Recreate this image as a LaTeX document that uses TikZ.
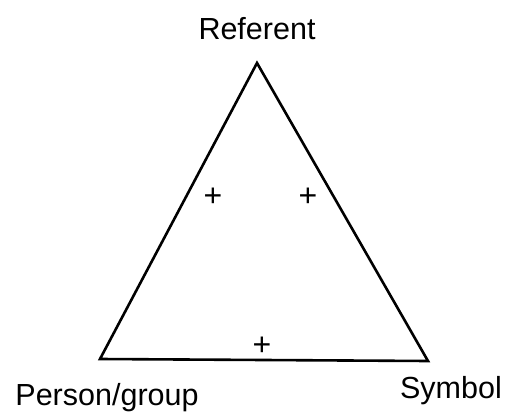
\documentclass[tikz,border=0pt]{standalone}
\usepackage{fontspec}
\setmainfont{Liberation Sans}
\usetikzlibrary{positioning}
\tikzset{
  tside/.style ={line width=2.6pt, black, line join=miter, line cap=round},
  tlabel/.style={inner sep=0pt, font=\fontsize{30.5}{36}\selectfont, anchor=base},
  tsign/.style ={inner sep=0pt, font=\fontsize{32}{38}\selectfont},
}

\begin{document}
\begin{tikzpicture}[x=1pt, y=-1pt]
  \useasboundingbox (0,0) rectangle (511,412);

  % corners of the triangle
  \coordinate (ref) at (257,63);
  \coordinate (per) at (100,359);
  \coordinate (sym) at (428,361);

  \draw[tside] (ref) -- (per) -- (sym) -- cycle;

  % corner labels
  \node[tlabel] (lref) at (257,40)  {Referent};
  \node[tlabel] (lper) at (107,405) {Person/group};
  \node[tlabel] (lsym) at (451,398) {Symbol};

  % signs on the sides
  \node[tsign] (sA) at (213,197) {+};
  \node[tsign] (sB) at (308,197) {+};
  \node[tsign] (sC) at (262,346) {+};
\end{tikzpicture}
\end{document}
